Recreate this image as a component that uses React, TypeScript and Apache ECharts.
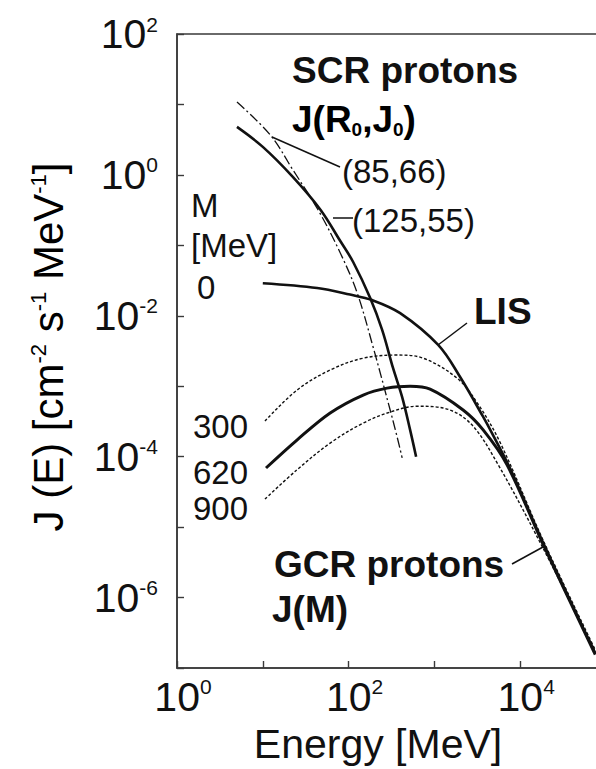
import React, { useEffect, useRef } from "react";
import * as echarts from "echarts";

// ---- Data (energy in MeV, flux J in cm^-2 s^-1 MeV^-1) ----
const scr125E = [5.0, 10, 22.5, 47, 80, 113, 178, 246, 330, 421, 521, 612];
const scr125J = [4.8, 2.5, 0.93, 0.32, 0.115, 0.058, 0.018, 0.0063, 0.0018, 0.0007, 0.00024, 0.0001];

const scr85E = [5.0, 12.2, 22.5, 44, 80, 126, 193, 305, 368, 421];
const scr85J = [10.8, 3.7, 1.17, 0.32, 0.078, 0.021, 0.0036, 0.00046, 0.00019, 0.000096];

const lisE = [10, 43, 104, 188, 399, 1107, 1995, 3707, 4840, 7640, 18500, 75000];
const lisJ = [0.029, 0.0248, 0.02, 0.0167, 0.0109, 0.00385, 0.00135, 0.000366, 0.0002, 0.0000676, 6.0e-6, 1.62e-7];

const m300E = [10.6, 25, 61, 148, 368, 740, 1840, 3155, 5850, 18500, 75000];
const m300J = [3.2e-4, 8.8e-4, 1.7e-3, 2.5e-3, 2.77e-3, 2.5e-3, 1.3e-3, 5.8e-4, 1.58e-4, 6.5e-6, 1.8e-7];

const m620E = [10.9, 25, 61, 148, 281, 521, 891, 2160, 3700, 7050, 18500, 75000];
const m620J = [6.9e-5, 1.72e-4, 4.17e-4, 7.5e-4, 9.4e-4, 1.0e-3, 9.1e-4, 4.6e-4, 2.4e-4, 7.6e-5, 5.7e-6, 1.55e-7];

const m900E = [10.6, 25, 61, 148, 305, 630, 1265, 2610, 5400, 18500, 75000];
const m900J = [2.5e-5, 6.5e-5, 1.56e-4, 3.0e-4, 4.3e-4, 5.2e-4, 4.9e-4, 3.0e-4, 8.1e-5, 5.0e-6, 1.7e-7];

const xShownExponents = [0, 2, 4];
const yShownExponents = [2, 0, -2, -4, -6];

const FONT = '"Liberation Sans", Arial, Helvetica, sans-serif';

const zip = (xs: number[], ys: number[]) => xs.map((x, i) => [x, ys[i]]);

export default function App() {
  const ref = useRef<HTMLDivElement>(null);
  useEffect(() => {
    if (!ref.current) return;
    const chart = echarts.init(ref.current, undefined, { renderer: "svg" });
    const axisColor = "#3a3a3a";
    const supStyle = { fontSize: 21, lineHeight: 21, fontFamily: FONT, color: "#111", verticalAlign: "top" };
    const txt = (text: string, x: number, y: number, size: number, bold = false, align = "left") => ({
      type: "text",
      x,
      y,
      silent: true,
      style: {
        text,
        fill: "#111",
        font: `${bold ? "bold " : ""}${size}px ${FONT}`,
        align,
        verticalAlign: "middle",
      },
    });
    const seg = (x1: number, y1: number, x2: number, y2: number) => ({
      type: "line",
      silent: true,
      shape: { x1, y1, x2, y2 },
      style: { stroke: "#111", lineWidth: 1.5 },
    });
    const line = (name: string, data: number[][], width: number, type: any) => ({
      name,
      type: "line",
      data,
      smooth: 0.35,
      showSymbol: false,
      symbol: "none",
      silent: true,
      clip: true,
      lineStyle: { color: "#111", width, type },
    });
    chart.setOption({
      animation: false,
      grid: {
        left: 177,
        right: -10,
        top: 34,
        bottom: 101,
        outerBoundsMode: "none",
        containLabel: false,
        show: true,
        borderColor: axisColor,
        borderWidth: 1.5,
        backgroundColor: "transparent",
      },
      xAxis: {
        type: "log",
        logBase: 10,
        min: 1,
        max: 100000,
        axisLine: { lineStyle: { color: axisColor, width: 1.6 } },
        axisTick: { inside: true, length: 7, lineStyle: { color: axisColor, width: 1.4 } },
        splitLine: { show: false },
        minorTick: { show: false },
        axisLabel: {
          margin: 8,
          formatter: (v: number) => {
            const e = Math.round(Math.log10(v));
            return xShownExponents.includes(e) ? `{b|10}{s|${e}}` : "";
          },
          rich: {
            b: { fontSize: 41, lineHeight: 41, fontFamily: FONT, color: "#111", padding: [0, 0, 0, 12] },
            s: supStyle,
          },
        },
      },
      yAxis: {
        type: "log",
        logBase: 10,
        min: 1e-7,
        max: 100,
        axisLine: { lineStyle: { color: axisColor, width: 1.6 } },
        axisTick: { inside: true, length: 7, lineStyle: { color: axisColor, width: 1.4 } },
        splitLine: { show: false },
        minorTick: { show: false },
        axisLabel: {
          margin: 19,
          formatter: (v: number) => {
            const e = Math.round(Math.log10(v));
            return yShownExponents.includes(e) ? `{b|10}{s|${e}}` : "";
          },
          rich: {
            b: { fontSize: 41, lineHeight: 41, fontFamily: FONT, color: "#111" },
            s: supStyle,
          },
        },
      },
      series: [
        line("LIS", zip(lisE, lisJ), 2.6, "solid"),
        line("M=300", zip(m300E, m300J), 1.4, [3, 2]),
        line("M=620", zip(m620E, m620J), 3, "solid"),
        line("M=900", zip(m900E, m900J), 1.4, [3, 2]),
        line("SCR (125,55)", zip(scr125E, scr125J), 2.6, "solid"),
        line("SCR (85,66)", zip(scr85E, scr85J), 1.3, [10, 3, 2, 3]),
      ],
      graphic: [
        txt("SCR protons", 292, 70, 37, true),
        {
          type: "text",
          x: 292,
          y: 119,
          silent: true,
          style: {
            text: "{t|J(R}{u|0}{t|,J}{u|0}{t|)}",
            align: "left",
            verticalAlign: "middle",
            rich: {
              t: { fontSize: 37, lineHeight: 40, fontWeight: "bold", fontFamily: FONT, color: "#111" },
              u: { fontSize: 19, lineHeight: 19, fontWeight: "bold", fontFamily: FONT, color: "#111", verticalAlign: "bottom" },
            },
          },
        },
        txt("(85,66)", 342, 171, 33),
        txt("(125,55)", 352, 220, 33),
        txt("M", 191, 205, 33),
        txt("[MeV]", 191, 245, 33),
        txt("0", 197, 287, 33),
        txt("300", 193, 426, 33),
        txt("620", 193, 472, 33),
        txt("900", 193, 508, 33),
        txt("LIS", 474, 311, 37, true),
        txt("GCR protons", 274, 564, 37, true),
        txt("J(M)", 272, 609, 37, true),
        txt("Energy [MeV]", 378, 744, 41, false, "center"),
        {
          type: "text",
          x: 48,
          y: 347,
          rotation: Math.PI / 2,
          silent: true,
          style: {
            text: "{n|J (E) [cm}{s|-2}{n| s}{s|-1}{n| MeV}{s|-1}{n|]}",
            align: "center",
            verticalAlign: "middle",
            rich: {
              n: { fontSize: 42, lineHeight: 42, fontFamily: FONT, color: "#111" },
              s: { fontSize: 22, lineHeight: 22, fontFamily: FONT, color: "#111", verticalAlign: "top" },
            },
          },
        },
        seg(272, 137, 340, 167),
        seg(333, 218, 353, 218),
        seg(438, 345, 467, 323),
        seg(512, 564, 543, 547),
      ],
    });
    return () => chart.dispose();
  }, []);
  return (
    <div
      ref={ref}
      style={{ position: "absolute", left: 0, top: 0, width: 596, height: 769, overflow: "hidden", background: "#fff" }}
    />
  );
}
